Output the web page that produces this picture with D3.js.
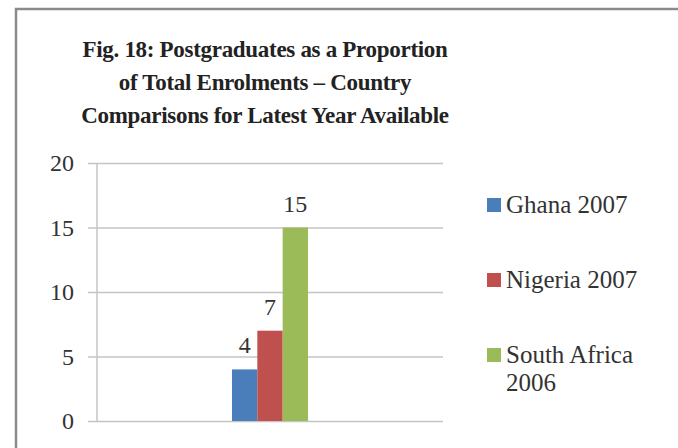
<!DOCTYPE html>
<html>
<head>
<meta charset="utf-8">
<script src="https://cdn.jsdelivr.net/npm/d3@7/dist/d3.min.js"></script>
<style>
  html, body { margin: 0; padding: 0; background: #fff; }
  svg { display: block; }
  text { font-family: "Liberation Serif", "Times New Roman", serif; }
</style>
</head>
<body>
<svg id="chart" width="678" height="448"></svg>
<script>
// ---- data ----
const titleLines = [
  "Fig. 18: Postgraduates as a Proportion",
  "of Total Enrolments \u2013 Country",
  "Comparisons for Latest Year Available"
];
const categories = [""];
const seriesNames = ["Ghana 2007", "Nigeria 2007", "South Africa 2006"];
const seriesValues = [4, 7, 15];
const yTicks = [0, 5, 10, 15, 20];
const colors = ["#4a7ebb", "#c0504d", "#9bbb59"];

const svg = d3.select("#chart");

// border
svg.append("rect")
  .attr("x", 16).attr("y", 9)
  .attr("width", 700).attr("height", 470)
  .attr("fill", "#fff")
  .attr("stroke", "#8a8a8a").attr("stroke-width", 2.5);

// title
svg.append("g").selectAll("text")
  .data(titleLines).join("text")
  .attr("x", 265)
  .attr("y", (d, i) => 57 + i * 33)
  .attr("text-anchor", "middle")
  .attr("font-weight", "bold")
  .attr("font-size", 23)
  .attr("letter-spacing", -0.3)
  .attr("fill", "#222")
  .text(d => d);

// scales
const plot = { left: 97, right: 443, top: 163, bottom: 421 };
const y = d3.scaleLinear().domain([0, 20]).range([plot.bottom, plot.top]);
const x0 = d3.scaleBand().domain(categories).range([plot.left, plot.right]).paddingInner(0).paddingOuter(0);
const x1 = d3.scaleBand().domain(seriesNames)
  .range([x0("") + x0.bandwidth() / 2 - 38, x0("") + x0.bandwidth() / 2 + 38]);

// gridlines + axis via d3 axis
const yAxis = d3.axisLeft(y).tickValues(yTicks)
  .tickSize(-(plot.right - plot.left)).tickPadding(23).tickFormat(d3.format("d"));
const gy = svg.append("g").attr("transform", `translate(${plot.left},0)`).call(yAxis);
gy.select(".domain").remove();
gy.selectAll(".tick line").attr("stroke", "#c4c4c4").attr("stroke-width", 1.5)
  .attr("x1", -9);
gy.selectAll(".tick text")
  .attr("font-family", "Liberation Serif, serif")
  .attr("font-size", 24).attr("fill", "#333");

// vertical axis line
svg.append("line")
  .attr("x1", plot.left).attr("x2", plot.left)
  .attr("y1", plot.top).attr("y2", plot.bottom)
  .attr("stroke", "#c4c4c4").attr("stroke-width", 1.5);

// bars
svg.append("g").selectAll("rect")
  .data(seriesValues).join("rect")
  .attr("x", (d, i) => x1(seriesNames[i]))
  .attr("y", d => y(d))
  .attr("width", x1.bandwidth())
  .attr("height", d => y(0) - y(d))
  .attr("fill", (d, i) => colors[i]);

// value labels
svg.append("g").selectAll("text")
  .data(seriesValues).join("text")
  .attr("x", (d, i) => x1(seriesNames[i]) + x1.bandwidth() / 2)
  .attr("y", d => y(d) - 16)
  .attr("text-anchor", "middle")
  .attr("font-size", 24)
  .attr("fill", "#333")
  .text(d => d);

// legend
const legendY = [205, 280, 355];
const lg = svg.append("g").selectAll("g")
  .data(seriesNames).join("g")
  .attr("transform", (d, i) => `translate(487,${legendY[i]})`);
lg.append("rect")
  .attr("x", 0).attr("y", -7).attr("width", 14).attr("height", 14)
  .attr("fill", (d, i) => colors[i]);
lg.append("text")
  .attr("x", 19).attr("y", 8)
  .attr("font-size", 25)
  .attr("fill", "#333")
  .each(function(d) {
    const parts = d === "South Africa 2006" ? ["South Africa", "2006"] : [d];
    const t = d3.select(this);
    parts.forEach((p, j) => {
      t.append("tspan").attr("x", 19).attr("dy", j === 0 ? 0 : 28).text(p);
    });
  });
</script>
</body>
</html>
